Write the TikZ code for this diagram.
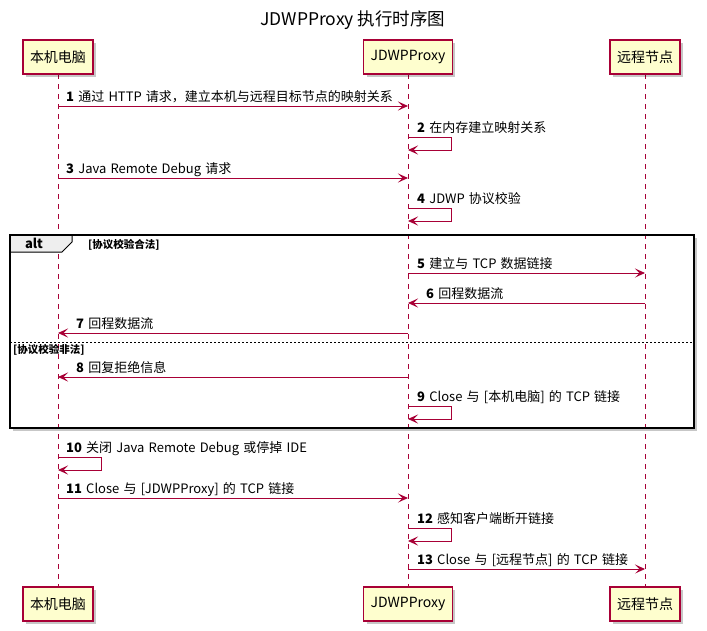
\documentclass[tikz,border=0pt]{standalone}
\usepackage{fontspec}
\setmainfont{Noto Sans CJK SC}
\usetikzlibrary{arrows.meta,shadows}
\definecolor{umlred}{HTML}{A80036}
\definecolor{umlfill}{HTML}{FEFECE}
\definecolor{tabfill}{HTML}{EEEEEE}
\newcommand{\lblfont}{\fontsize{13}{15}\selectfont\spaceskip=4.2pt\relax}
\tikzset{
  participant/.style={draw=umlred, fill=umlfill, line width=1.1pt, minimum height=34pt,
    inner xsep=7pt, inner ysep=0pt, font=\fontsize{14}{16}\selectfont,
    drop shadow={shadow xshift=3pt, shadow yshift=-3pt, fill=black, opacity=0.22}},
  lifeline/.style={draw=umlred, line width=0.9pt, dash pattern=on 5pt off 5pt},
  msg/.style={draw=umlred, line width=0.9pt, -{Stealth[length=10pt,width=9pt,inset=4.5pt]}},
  lbl/.style={anchor=base west, inner sep=0pt, font=\lblfont},
  grd/.style={anchor=base west, inner sep=0pt, font=\fontsize{10.5}{12}\selectfont\bfseries},
}
\begin{document}
\begin{tikzpicture}[x=1pt,y=-1pt]
\useasboundingbox (0,0) rectangle (707,630);
\fill[white] (0,0) rectangle (707,630);
% title
\node[font=\fontsize{17.5}{20}\selectfont, inner sep=0pt] (title) at (353,20) {JDWPProxy 执行时序图};
% alt frame shadow and background
\coordinate (fa) at (10,235); \coordinate (fb) at (694,428);
\fill[black, opacity=0.22] (13,238) rectangle (697,431);
\fill[white] (fa) rectangle (fb);
% lifelines
\coordinate (la) at (58,74); \coordinate (lae) at (58,587);
\coordinate (lb) at (408,74); \coordinate (lbe) at (408,587);
\coordinate (lc) at (645,74); \coordinate (lce) at (645,587);
\draw[lifeline] (la) -- (lae);
\draw[lifeline] (lb) -- (lbe);
\draw[lifeline] (lc) -- (lce);
% participants top
\node[participant] (pa) at (58,57) {本机电脑};
\node[participant] (pb) at (408,57) {JDWPProxy};
\node[participant] (pc) at (645,57) {远程节点};
% participants bottom
\node[participant] (qa) at (58,604) {本机电脑};
\node[participant] (qb) at (408,604) {JDWPProxy};
\node[participant] (qc) at (645,604) {远程节点};
% alt frame
\draw[black, line width=1pt, fill=tabfill] (10,235) -- (72,235) -- (72,242) -- (62,252) -- (10,252) -- cycle;
\draw[black, line width=1.5pt] (fa) rectangle (fb);
\node[anchor=base, inner sep=0pt, font=\fontsize{13}{15}\selectfont\bfseries] (alt) at (34,248.5) {alt};
\node[grd] (g1) at (88,248) {[协议校验合法]};
\coordinate (sepl) at (10,342); \coordinate (sepr) at (694,342);
\draw[black, line width=0.7pt, dash pattern=on 2pt off 2pt] (sepl) -- (sepr);
\node[grd] (g2) at (13,353) {[协议校验非法]};
% 1
\coordinate (a1) at (58,106); \coordinate (b1) at (408,106);
\draw[msg] (a1) -- (b1);
\node[lbl] (t1) at (66,101.5) {\textbf{1} 通过 HTTP 请求，建立本机与远程目标节点的映射关系};
% 2
\coordinate (s2a) at (408,137); \coordinate (s2b) at (408,150);
\draw[msg] (s2a) -- ++(43,0) |- (s2b);
\node[lbl] (t2) at (417,132.5) {\textbf{2} 在内存建立映射关系};
% 3
\coordinate (a3) at (58,178); \coordinate (b3) at (408,178);
\draw[msg] (a3) -- (b3);
\node[lbl] (t3) at (66,173.5) {\textbf{3} Java Remote Debug 请求};
% 4
\coordinate (s4a) at (408,208); \coordinate (s4b) at (408,221);
\draw[msg] (s4a) -- ++(43,0) |- (s4b);
\node[lbl] (t4) at (417,203.5) {\textbf{4} JDWP 协议校验};
% 5
\coordinate (b5) at (408,273); \coordinate (c5) at (645,273);
\draw[msg] (b5) -- (c5);
\node[lbl] (t5) at (417,268.5) {\textbf{5} 建立与 TCP 数据链接};
% 6
\coordinate (c6) at (645,303); \coordinate (b6) at (408,303);
\draw[msg] (c6) -- (b6);
\node[lbl] (t6) at (426,298.5) {\textbf{6} 回程数据流};
% 7
\coordinate (b7) at (408,333); \coordinate (a7) at (58,333);
\draw[msg] (b7) -- (a7);
\node[lbl] (t7) at (76,328.5) {\textbf{7} 回程数据流};
% 8
\coordinate (b8) at (408,377); \coordinate (a8) at (58,377);
\draw[msg] (b8) -- (a8);
\node[lbl] (t8) at (76,372.5) {\textbf{8} 回复拒绝信息};
% 9
\coordinate (s9a) at (408,406); \coordinate (s9b) at (408,419);
\draw[msg] (s9a) -- ++(43,0) |- (s9b);
\node[lbl] (t9) at (417,401.5) {\textbf{9} Close 与 [本机电脑] 的 TCP 链接};
% 10
\coordinate (s10a) at (58,457); \coordinate (s10b) at (58,470);
\draw[msg] (s10a) -- ++(43,0) |- (s10b);
\node[lbl] (t10) at (66,452.5) {\textbf{10} 关闭 Java Remote Debug 或停掉 IDE};
% 11
\coordinate (a11) at (58,498); \coordinate (b11) at (408,498);
\draw[msg] (a11) -- (b11);
\node[lbl] (t11) at (66,493.5) {\textbf{11} Close 与 [JDWPProxy] 的 TCP 链接};
% 12
\coordinate (s12a) at (408,528); \coordinate (s12b) at (408,541);
\draw[msg] (s12a) -- ++(43,0) |- (s12b);
\node[lbl] (t12) at (417,523.5) {\textbf{12} 感知客户端断开链接};
% 13
\coordinate (b13) at (408,569); \coordinate (c13) at (645,569);
\draw[msg] (b13) -- (c13);
\node[lbl] (t13) at (417,564.5) {\textbf{13} Close 与 [远程节点] 的 TCP 链接};
\end{tikzpicture}
\end{document}
